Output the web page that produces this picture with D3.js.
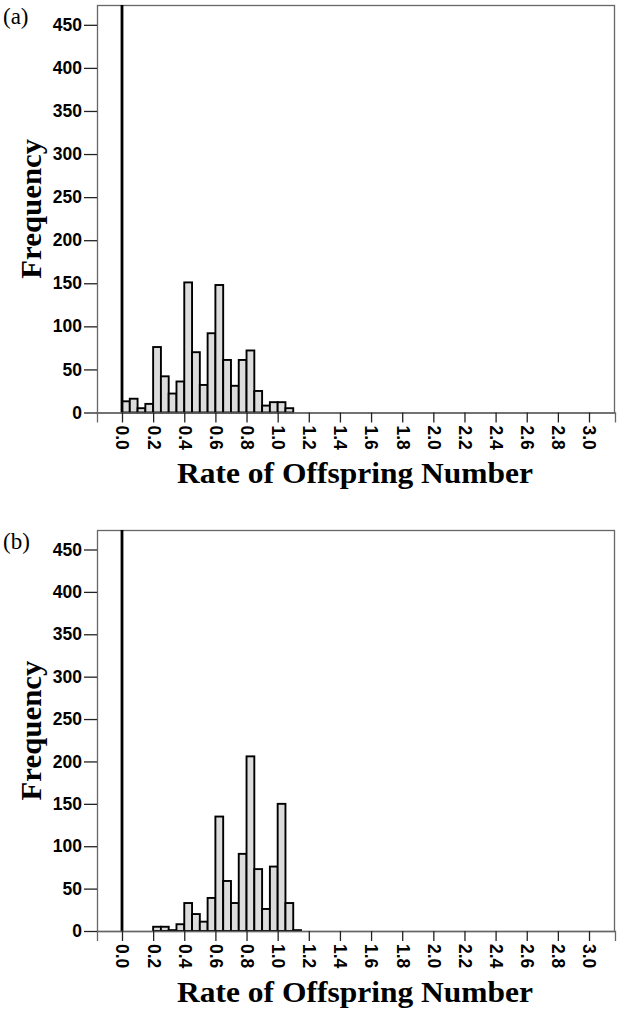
<!DOCTYPE html>
<html>
<head>
<meta charset="utf-8">
<script src="https://cdn.jsdelivr.net/npm/d3@7"></script>
<style>
  body { margin: 0; background: #fff; }
  .tick_lbl { font-family: "Liberation Sans", Arial, sans-serif; font-weight: bold; font-size: 17.5px; }
  .axis_title { font-family: "Liberation Serif", "Times New Roman", serif; font-weight: bold; font-size: 30px; }
  .panel_lbl { font-family: "Liberation Serif", "Times New Roman", serif; font-size: 23px; }
</style>
</head>
<body>
<div id="chart"></div>
<script>
// histogram bins (left edge of each 0.05 wide bin) and counts
var bins_a = [0.00, 0.05, 0.10, 0.15, 0.20, 0.25, 0.30, 0.35, 0.40, 0.45, 0.50,
              0.55, 0.60, 0.65, 0.70, 0.75, 0.80, 0.85, 0.90, 0.95, 1.00, 1.05];
var counts_a = [13, 16, 5, 10, 76, 42, 22, 36, 151, 70, 32,
                92, 148, 61, 31, 61, 72, 25, 8, 12, 12, 5];

var bins_b = [0.20, 0.25, 0.30, 0.35, 0.40, 0.45, 0.50, 0.55, 0.60, 0.65,
              0.70, 0.75, 0.80, 0.85, 0.90, 0.95, 1.00, 1.05, 1.10];
var counts_b = [5, 5, 1, 8, 33, 20, 11, 39, 135, 59,
                33, 91, 206, 73, 26, 76, 150, 33, 1];

var bin_width = 0.05;
var x_ticks = [0.0, 0.2, 0.4, 0.6, 0.8, 1.0, 1.2, 1.4, 1.6, 1.8, 2.0, 2.2, 2.4, 2.6, 2.8, 3.0];
var y_ticks = [0, 50, 100, 150, 200, 250, 300, 350, 400, 450];
var x_title = "Rate of Offspring Number";
var y_title = "Frequency";

var W = 622, H = 1015;
var svg = d3.select("#chart").append("svg")
    .attr("width", W)
    .attr("height", H);

draw_panel("(a)", bins_a, counts_a, {left: 97, right: 615, top: 5, bottom: 412.5});
draw_panel("(b)", bins_b, counts_b, {left: 97, right: 615, top: 530, bottom: 931});

function draw_panel(label, bins, counts, box) {
    var width = box.right - box.left;
    var height = box.bottom - box.top;

    var x = d3.scaleLinear().domain([-0.1606, 3.167]).range([0, width]);
    var y = d3.scaleLinear().domain([0, 473]).range([height, 0]);

    var g = svg.append("g")
        .attr("transform", "translate(" + box.left + "," + box.top + ")");

    // frame
    g.append("rect")
        .attr("x", 0.5).attr("y", 0.5)
        .attr("width", width - 1).attr("height", height)
        .attr("fill", "none")
        .attr("stroke", "#666")
        .attr("stroke-width", 1.3);

    var data = bins.map(function(b, i) { return {x0: b, n: counts[i]}; });

    g.selectAll(".bar")
        .data(data)
      .enter().append("rect")
        .attr("class", "bar")
        .attr("x", function(d) { return x(d.x0); })
        .attr("width", function(d) { return x(d.x0 + bin_width) - x(d.x0); })
        .attr("y", function(d) { return y(d.n); })
        .attr("height", function(d) { return height - y(d.n); })
        .attr("fill", "#dcdcdc")
        .attr("stroke", "#000")
        .attr("stroke-width", 1.9);

    // reference line at 0
    g.append("line")
        .attr("x1", x(0)).attr("x2", x(0))
        .attr("y1", 0).attr("y2", height)
        .attr("stroke", "#000")
        .attr("stroke-width", 2.8);

    var xAxis = d3.axisBottom(x)
        .tickValues(x_ticks)
        .tickSize(10)
        .tickFormat(d3.format(".1f"));

    var xg = g.append("g")
        .attr("transform", "translate(0," + height + ")")
        .call(xAxis);
    xg.select(".domain").attr("stroke", "#666").attr("stroke-width", 1.3);
    xg.selectAll(".tick line").attr("stroke", "#222").attr("stroke-width", 1.3);
    xg.selectAll(".tick text")
        .attr("class", "tick_lbl")
        .attr("fill", "#000")
        .attr("transform", "rotate(90)")
        .attr("x", 13)
        .attr("y", 0)
        .attr("dy", "0.35em")
        .style("text-anchor", "start");

    var yAxis = d3.axisLeft(y)
        .tickValues(y_ticks)
        .tickSize(13)
        .tickPadding(2);

    var yg = g.append("g").call(yAxis);
    yg.select(".domain").remove();
    yg.selectAll(".tick line").attr("stroke", "#222").attr("stroke-width", 1.3);
    yg.selectAll(".tick text")
        .attr("class", "tick_lbl")
        .attr("fill", "#000");

    g.append("text")
        .attr("class", "axis_title")
        .attr("x", 177 - box.left)
        .attr("y", height + 70.5)
        .attr("textLength", 356)
        .attr("lengthAdjust", "spacingAndGlyphs")
        .text(x_title);

    g.append("text")
        .attr("class", "axis_title")
        .attr("transform", "translate(" + (41 - box.left) + "," + (height / 2 + 70) + ") rotate(-90)")
        .attr("textLength", 140)
        .attr("lengthAdjust", "spacingAndGlyphs")
        .text(y_title);

    svg.append("text")
        .attr("class", "panel_lbl")
        .attr("x", 3)
        .attr("y", box.top + 19)
        .text(label);
}
</script>
</body>
</html>
